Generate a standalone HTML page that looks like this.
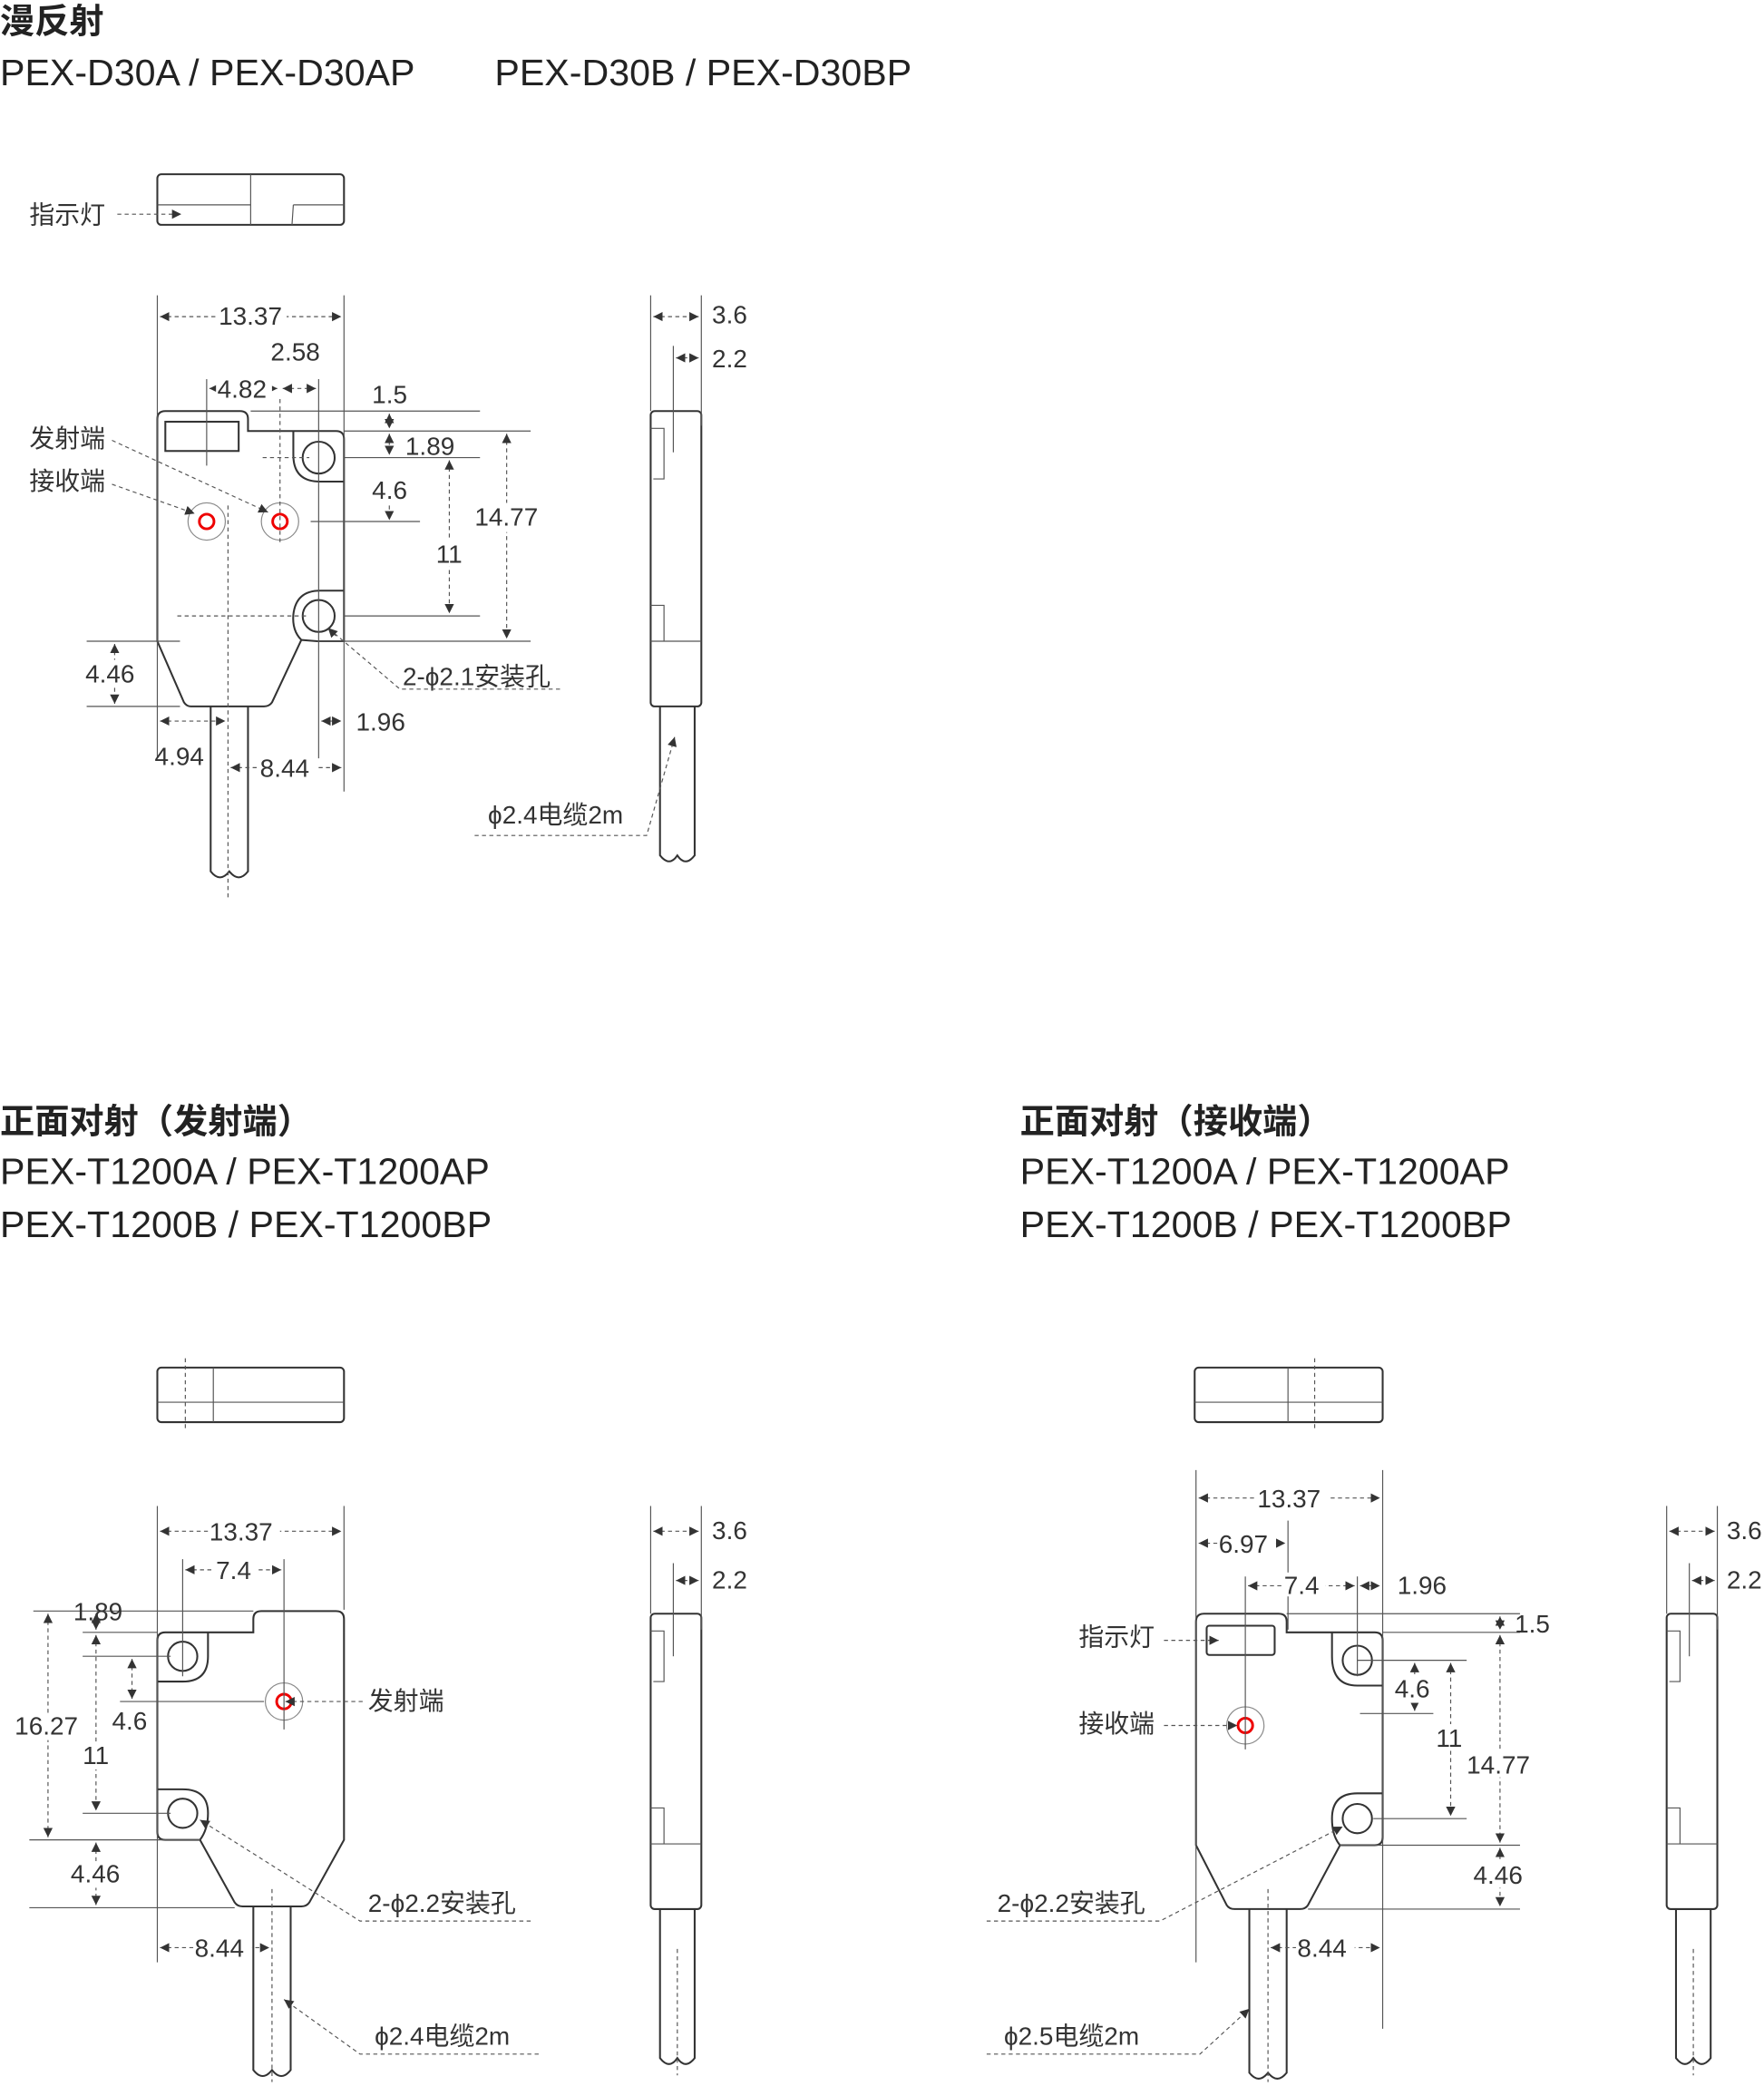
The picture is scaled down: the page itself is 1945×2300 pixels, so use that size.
<!DOCTYPE html>
<html><head><meta charset="utf-8"><style>
html,body{margin:0;padding:0;background:#fff;}
svg{display:block;}
text{font-family:"Liberation Sans","Noto Sans CJK SC",sans-serif;fill:#333;}
.t{font-size:26px;font-weight:bold;fill:#222;}
.m{font-size:28px;fill:#222;}
.d{font-size:19px;fill:#333;}
.o{fill:none;stroke:#333;stroke-width:1.4;}
.l{fill:none;stroke:#555;stroke-width:0.8;}
.k{fill:none;stroke:#555;stroke-width:0.8;stroke-dasharray:3 2.5;}
.a{fill:none;stroke:#555;stroke-width:0.8;stroke-dasharray:3 2.5;marker-start:url(#ar);marker-end:url(#ar);}
.e{fill:none;stroke:#555;stroke-width:0.8;stroke-dasharray:3 2.5;marker-end:url(#ar);}
</style></head><body>
<svg width="1945" height="2300" viewBox="0 0 1323 1568" preserveAspectRatio="none" xmlns="http://www.w3.org/2000/svg">
<defs>
<marker id="ar" markerUnits="userSpaceOnUse" markerWidth="8" markerHeight="8" refX="7" refY="4" orient="auto-start-reverse"><path d="M0,0.5 L7,4 L0,7.5Z" fill="#333"/></marker>
<g id="side">
<rect x="488" y="309" width="38" height="222" rx="3" class="o"/>
<path class="l" d="M488 322 L498 322 L498 360 L490 360 M488 455 L498 455 L498 482 M488 482 L526 482"/>
<path class="o" d="M495 531 L495 643 Q502 652 508 643 Q514 652 521 643 L521 531"/>
</g>
</defs>

<!-- TOP SECTION -->
<text class="t" x="0" y="25">漫反射</text>
<text class="m" x="0" y="64">PEX-D30A / PEX-D30AP</text>
<text class="m" x="371" y="64">PEX-D30B / PEX-D30BP</text>

<rect x="118" y="131" width="140" height="38" rx="3" class="o"/>
<path class="l" d="M118 154 L188 154 M188 131 L188 169 M220 154 L258 154 M220 154 L219 169"/>
<text class="d" x="22" y="168">指示灯</text>
<line class="e" x1="88" y1="161" x2="136" y2="161"/>

<!-- body -->
<path class="o" d="M124 309 L180 309 Q186 309 186 315 L186 324 L252 324 Q258 324 258 330 L258 482 L238 482 L226 481 L204 528 Q202 531 198 531 L143 531 Q140 531 138 528 L118 482 L118 315 Q118 309 124 309 Z"/>
<path class="o" d="M220 324 L220 342 Q220 362 240 362 L258 362"/>
<path class="o" d="M226 481 Q219 474 220 462 Q222 444 240 444 L258 444"/>
<rect x="124" y="317" width="55" height="22" class="o" stroke-width="1"/>
<circle cx="239" cy="344" r="12" class="o"/>
<circle cx="239" cy="463" r="12" class="o"/>
<circle cx="155" cy="392" r="14" fill="none" stroke="#888" stroke-width="0.8"/>
<circle cx="155" cy="392" r="5.5" fill="none" stroke="#e00" stroke-width="2"/>
<circle cx="210" cy="392" r="14" fill="none" stroke="#888" stroke-width="0.8"/>
<circle cx="210" cy="392" r="5.5" fill="none" stroke="#e00" stroke-width="2"/>
<path class="o" d="M158 531 L158 655 Q165 664 172 655 Q179 664 186 655 L186 531"/>
<line class="k" x1="171" y1="380" x2="171" y2="675"/>
<line class="k" x1="197" y1="344" x2="232" y2="344"/>
<line class="k" x1="133" y1="463" x2="232" y2="463"/>
<line class="k" x1="210" y1="300" x2="210" y2="410"/>
<line class="l" x1="155" y1="285" x2="155" y2="350"/>
<line class="l" x1="239" y1="285" x2="239" y2="570"/>
<line class="l" x1="118" y1="222" x2="118" y2="570"/>
<line class="l" x1="258" y1="222" x2="258" y2="595"/>
<line class="a" x1="120" y1="238" x2="256" y2="238"/>
<rect x="163" y="228" width="52" height="18" fill="#fff"/><text class="d" x="164" y="244">13.37</text>
<text class="d" x="203" y="271">2.58</text>
<line class="a" x1="157" y1="292" x2="208" y2="292"/>
<rect x="162" y="283" width="42" height="17" fill="#fff"/><text class="d" x="163" y="299">4.82</text>
<line class="a" x1="212" y1="292" x2="237" y2="292"/>
<line class="l" x1="188" y1="309" x2="360" y2="309"/>
<line class="l" x1="258" y1="324" x2="398" y2="324"/>
<line class="l" x1="258" y1="344" x2="360" y2="344"/>
<line class="l" x1="233" y1="392" x2="315" y2="392"/>
<line class="l" x1="258" y1="463" x2="360" y2="463"/>
<line class="l" x1="238" y1="482" x2="398" y2="482"/>
<line class="a" x1="292" y1="311" x2="292" y2="322"/>
<text class="d" x="279" y="303">1.5</text>
<line class="a" x1="292" y1="326" x2="292" y2="342"/>
<text class="d" x="304" y="342">1.89</text>
<line class="e" x1="292" y1="380" x2="292" y2="391"/>
<text class="d" x="279" y="375">4.6</text>
<line class="a" x1="337" y1="346" x2="337" y2="461"/>
<rect x="326" y="406" width="24" height="20" fill="#fff"/><text class="d" x="327" y="423">11</text>
<line class="a" x1="380" y1="326" x2="380" y2="480"/>
<rect x="355" y="378" width="54" height="22" fill="#fff"/><text class="d" x="356" y="395">14.77</text>
<line class="l" x1="65" y1="482" x2="135" y2="482"/>
<line class="l" x1="65" y1="531" x2="135" y2="531"/>
<line class="a" x1="86" y1="484" x2="86" y2="529"/>
<rect x="63" y="496" width="44" height="20" fill="#fff"/><text class="d" x="64" y="513">4.46</text>
<line class="a" x1="120" y1="542" x2="169" y2="542"/>
<text class="d" x="116" y="575">4.94</text>
<line class="a" x1="241" y1="542" x2="256" y2="542"/>
<text class="d" x="267" y="549">1.96</text>
<line class="a" x1="173" y1="577" x2="256" y2="577"/>
<rect x="194" y="567" width="44" height="18" fill="#fff"/><text class="d" x="195" y="584">8.44</text>
<text class="d" x="22" y="336">发射端</text>
<text class="d" x="22" y="368">接收端</text>
<line class="e" x1="84" y1="331" x2="201" y2="385"/>
<line class="e" x1="84" y1="364" x2="146" y2="386"/>
<text class="d" x="302" y="515">2-ϕ2.1安装孔</text>
<path class="k" d="M420 518 L300 518 L246 472"/>
<path class="l" d="M252 478 l-6 -6" marker-end="url(#ar)"/>

<use href="#side"/>
<line class="l" x1="488" y1="222" x2="488" y2="309"/>
<line class="l" x1="526" y1="222" x2="526" y2="320"/>
<line class="l" x1="505" y1="260" x2="505" y2="340"/>
<line class="a" x1="490" y1="238" x2="524" y2="238"/>
<text class="d" x="534" y="243">3.6</text>
<line class="a" x1="507" y1="269" x2="524" y2="269"/>
<text class="d" x="534" y="276">2.2</text>
<text class="d" x="366" y="619">ϕ2.4电缆2m</text>
<path class="k" d="M356 628 L485 628 L506 554" marker-end="url(#ar)"/>

<!-- BOTTOM LEFT -->
<text class="t" x="0" y="852">正面对射（发射端）</text>
<text class="m" x="0" y="890">PEX-T1200A / PEX-T1200AP</text>
<text class="m" x="0" y="930">PEX-T1200B / PEX-T1200BP</text>
<rect x="118" y="1028" width="140" height="41" rx="3" class="o"/>
<path class="l" d="M118 1054 L258 1054 M160 1028 L160 1069"/>
<line class="k" x1="139" y1="1021" x2="139" y2="1076"/>

<path class="o" d="M124 1227 L190 1227 L190 1217 Q190 1211 196 1211 L252 1211 Q258 1211 258 1217 L258 1383 L232 1430 Q230 1433 226 1433 L182 1433 Q178 1433 176 1430 L150 1383 L124 1383 Q118 1383 118 1377 L118 1233 Q118 1227 124 1227 Z"/>
<path class="o" d="M156 1227 L156 1245 Q156 1264 137 1264 L118 1264"/>
<path class="o" d="M150 1383 Q156 1375 156 1363 Q156 1345 137 1345 L118 1345"/>
<circle cx="137" cy="1245" r="11" class="o"/>
<circle cx="137" cy="1363" r="11" class="o"/>
<circle cx="213" cy="1279" r="14" fill="none" stroke="#888" stroke-width="0.8"/>
<circle cx="213" cy="1279" r="5.5" fill="none" stroke="#e00" stroke-width="2"/>
<path class="o" d="M190 1433 L190 1556 Q197 1565 204 1556 Q211 1565 218 1556 L218 1433"/>
<line class="k" x1="204" y1="1420" x2="204" y2="1565"/>
<line class="l" x1="137" y1="1172" x2="137" y2="1260"/>
<line class="l" x1="213" y1="1172" x2="213" y2="1300"/>
<line class="l" x1="118" y1="1132" x2="118" y2="1475"/>
<line class="l" x1="258" y1="1132" x2="258" y2="1210"/>
<line class="a" x1="120" y1="1151" x2="256" y2="1151"/>
<rect x="156" y="1141" width="54" height="18" fill="#fff"/><text class="d" x="157" y="1158">13.37</text>
<line class="a" x1="139" y1="1180" x2="211" y2="1180"/>
<rect x="160" y="1170" width="32" height="18" fill="#fff"/><text class="d" x="162" y="1187">7.4</text>
<line class="l" x1="25" y1="1211" x2="190" y2="1211"/>
<text class="d" x="55" y="1218">1.89</text>
<line class="l" x1="62" y1="1227" x2="118" y2="1227"/>
<line class="l" x1="62" y1="1245" x2="128" y2="1245"/>
<line class="l" x1="90" y1="1279" x2="198" y2="1279"/>
<line class="l" x1="62" y1="1363" x2="128" y2="1363"/>
<line class="l" x1="22" y1="1383" x2="150" y2="1383"/>
<line class="l" x1="22" y1="1434" x2="176" y2="1434"/>
<line class="a" x1="72" y1="1213" x2="72" y2="1225"/>
<line class="a" x1="36" y1="1213" x2="36" y2="1381"/>
<rect x="10" y="1288" width="54" height="20" fill="#fff"/><text class="d" x="11" y="1304">16.27</text>
<line class="a" x1="72" y1="1229" x2="72" y2="1361"/>
<rect x="61" y="1310" width="24" height="20" fill="#fff"/><text class="d" x="62" y="1326">11</text>
<line class="a" x1="99" y1="1247" x2="99" y2="1277"/>
<text class="d" x="84" y="1300">4.6</text>
<line class="a" x1="72" y1="1385" x2="72" y2="1432"/>
<rect x="52" y="1399" width="44" height="20" fill="#fff"/><text class="d" x="53" y="1415">4.46</text>
<line class="a" x1="120" y1="1464" x2="202" y2="1464"/>
<rect x="145" y="1454" width="44" height="18" fill="#fff"/><text class="d" x="146" y="1471">8.44</text>
<text class="d" x="276" y="1285">发射端</text>
<line class="e" x1="272" y1="1279" x2="214" y2="1279"/>
<text class="d" x="276" y="1437">2-ϕ2.2安装孔</text>
<path class="k" d="M398 1444 L270 1444 L150 1368" marker-end="url(#ar)"/>
<text class="d" x="281" y="1537">ϕ2.4电缆2m</text>
<path class="k" d="M404 1544 L270 1544 L213 1503" marker-end="url(#ar)"/>

<use href="#side" transform="translate(0,904)"/>
<line class="k" x1="508" y1="1465" x2="508" y2="1560"/>
<line class="l" x1="488" y1="1132" x2="488" y2="1213"/>
<line class="l" x1="526" y1="1132" x2="526" y2="1225"/>
<line class="l" x1="505" y1="1175" x2="505" y2="1245"/>
<line class="a" x1="490" y1="1151" x2="524" y2="1151"/>
<text class="d" x="534" y="1157">3.6</text>
<line class="a" x1="507" y1="1188" x2="524" y2="1188"/>
<text class="d" x="534" y="1194">2.2</text>

<!-- BOTTOM RIGHT -->
<text class="t" x="765" y="852">正面对射（接收端）</text>
<text class="m" x="765" y="890">PEX-T1200A / PEX-T1200AP</text>
<text class="m" x="765" y="930">PEX-T1200B / PEX-T1200BP</text>
<rect x="896" y="1028" width="141" height="41" rx="3" class="o"/>
<path class="l" d="M896 1054 L1037 1054 M966 1028 L966 1069"/>
<line class="k" x1="986" y1="1021" x2="986" y2="1076"/>

<path class="o" d="M903 1213 L959 1213 Q965 1213 965 1219 L965 1227 L1031 1227 Q1037 1227 1037 1233 L1037 1381 Q1037 1387 1031 1387 L1005 1387 L981 1432 Q979 1435 975 1435 L926 1435 Q922 1435 920 1432 L897 1387 L897 1219 Q897 1213 903 1213 Z"/>
<path class="o" d="M999 1227 L999 1245 Q999 1267 1018 1267 L1037 1267"/>
<path class="o" d="M1005 1387 Q999 1380 999 1367 Q999 1348 1018 1348 L1037 1348"/>
<rect x="905" y="1222" width="51" height="22" rx="2" class="o" stroke-width="1"/>
<circle cx="1018" cy="1248" r="11" class="o"/>
<circle cx="1018" cy="1367" r="11" class="o"/>
<circle cx="934" cy="1297" r="14" fill="none" stroke="#888" stroke-width="0.8"/>
<circle cx="934" cy="1297" r="5.5" fill="none" stroke="#e00" stroke-width="2"/>
<path class="o" d="M937 1435 L937 1558 Q944 1567 951 1558 Q958 1567 965 1558 L965 1435"/>
<line class="k" x1="951" y1="1420" x2="951" y2="1565"/>
<line class="l" x1="897" y1="1105" x2="897" y2="1475"/>
<line class="l" x1="1037" y1="1105" x2="1037" y2="1525"/>
<line class="l" x1="966" y1="1143" x2="966" y2="1225"/>
<line class="l" x1="934" y1="1185" x2="934" y2="1315"/>
<line class="l" x1="1018" y1="1185" x2="1018" y2="1260"/>
<line class="a" x1="899" y1="1126" x2="1035" y2="1126"/>
<rect x="942" y="1116" width="54" height="18" fill="#fff"/><text class="d" x="943" y="1133">13.37</text>
<line class="a" x1="899" y1="1160" x2="964" y2="1160"/>
<rect x="913" y="1150" width="44" height="18" fill="#fff"/><text class="d" x="914" y="1167">6.97</text>
<line class="a" x1="936" y1="1192" x2="1016" y2="1192"/>
<rect x="962" y="1182" width="32" height="18" fill="#fff"/><text class="d" x="963" y="1198">7.4</text>
<line class="a" x1="1020" y1="1192" x2="1035" y2="1192"/>
<text class="d" x="1048" y="1198">1.96</text>
<line class="l" x1="965" y1="1213" x2="1140" y2="1213"/>
<line class="l" x1="1037" y1="1227" x2="1140" y2="1227"/>
<line class="l" x1="1018" y1="1248" x2="1100" y2="1248"/>
<line class="l" x1="1020" y1="1288" x2="1075" y2="1288"/>
<line class="l" x1="1030" y1="1367" x2="1100" y2="1367"/>
<line class="l" x1="1005" y1="1387" x2="1140" y2="1387"/>
<line class="l" x1="981" y1="1435" x2="1140" y2="1435"/>
<line class="a" x1="1125" y1="1215" x2="1125" y2="1225"/>
<text class="d" x="1136" y="1227">1.5</text>
<line class="a" x1="1061" y1="1250" x2="1061" y2="1286"/>
<rect x="1046" y="1260" width="32" height="20" fill="#fff"/><text class="d" x="1046" y="1276">4.6</text>
<line class="a" x1="1088" y1="1250" x2="1088" y2="1365"/>
<rect x="1077" y="1296" width="24" height="20" fill="#fff"/><text class="d" x="1077" y="1313">11</text>
<line class="a" x1="1125" y1="1229" x2="1125" y2="1385"/>
<rect x="1099" y="1316" width="54" height="20" fill="#fff"/><text class="d" x="1100" y="1333">14.77</text>
<line class="a" x1="1125" y1="1389" x2="1125" y2="1433"/>
<rect x="1104" y="1399" width="44" height="20" fill="#fff"/><text class="d" x="1105" y="1416">4.46</text>
<line class="a" x1="953" y1="1464" x2="1035" y2="1464"/>
<rect x="972" y="1454" width="44" height="18" fill="#fff"/><text class="d" x="973" y="1471">8.44</text>
<text class="d" x="809" y="1237">指示灯</text>
<line class="e" x1="873" y1="1233" x2="914" y2="1233"/>
<text class="d" x="809" y="1302">接收端</text>
<line class="e" x1="873" y1="1297" x2="928" y2="1297"/>
<text class="d" x="748" y="1437">2-ϕ2.2安装孔</text>
<path class="k" d="M740 1444 L870 1444 L1007 1373" marker-end="url(#ar)"/>
<text class="d" x="753" y="1537">ϕ2.5电缆2m</text>
<path class="k" d="M740 1544 L900 1544 L937 1510" marker-end="url(#ar)"/>

<use href="#side" transform="translate(762,904)"/>
<line class="k" x1="1270" y1="1465" x2="1270" y2="1560"/>
<line class="l" x1="1250" y1="1132" x2="1250" y2="1213"/>
<line class="l" x1="1288" y1="1132" x2="1288" y2="1225"/>
<line class="l" x1="1267" y1="1175" x2="1267" y2="1245"/>
<line class="a" x1="1252" y1="1151" x2="1286" y2="1151"/>
<text class="d" x="1295" y="1157">3.6</text>
<line class="a" x1="1269" y1="1188" x2="1286" y2="1188"/>
<text class="d" x="1295" y="1194">2.2</text>
</svg>
</body></html>
